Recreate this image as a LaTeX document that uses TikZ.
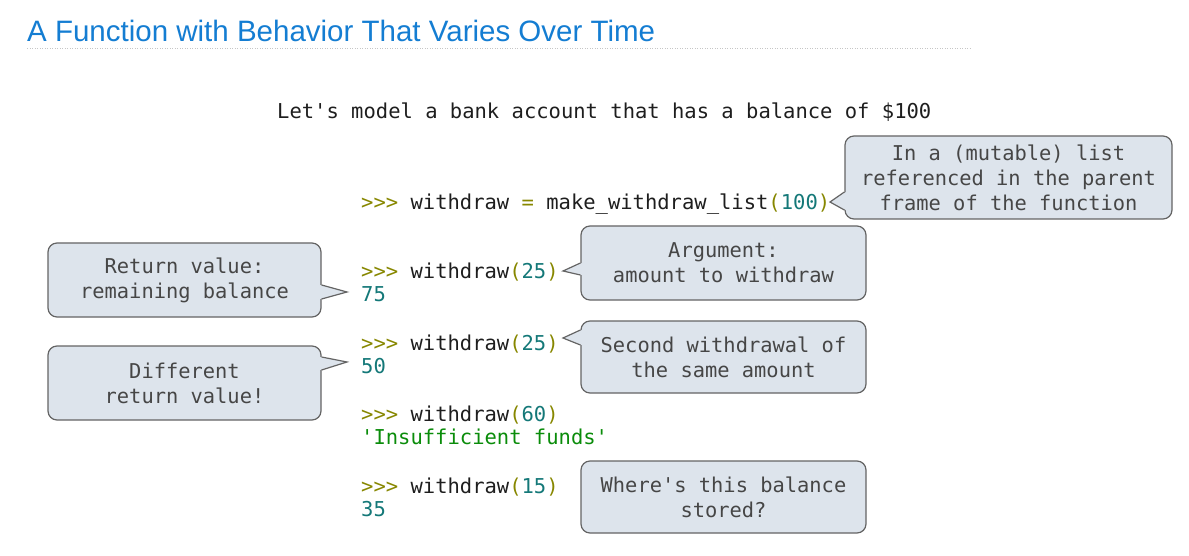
\documentclass[tikz,border=0pt]{standalone}
\usepackage{fontspec}
\setmainfont{Liberation Sans}
\setmonofont{DejaVu Sans Mono}

\definecolor{titleblue}{RGB}{20,125,210}
\definecolor{pyprompt}{RGB}{135,135,0}
\definecolor{pynum}{RGB}{20,120,120}
\definecolor{pystr}{RGB}{10,140,10}
\definecolor{codeblack}{RGB}{30,30,30}
\definecolor{notefill}{RGB}{221,228,236}
\definecolor{notedraw}{RGB}{100,100,100}
\definecolor{notetext}{RGB}{70,70,70}

\newcommand{\pr}{\textcolor{pyprompt}{>>>}}
\newcommand{\op}[1]{\textcolor{pyprompt}{#1}}
\newcommand{\num}[1]{\textcolor{pynum}{#1}}

\begin{document}
\begin{tikzpicture}[
x=1pt, y=-1pt,
heading/.style={anchor=base west, inner sep=0pt, text=titleblue, font=\fontsize{29.5}{32}\selectfont},
code/.style={anchor=base west, inner sep=0pt, text=codeblack, font=\ttfamily\fontsize{20.5}{24}\selectfont},
note/.style={rectangle, rounded corners=9pt, draw=notedraw, fill=notefill, line width=1.2pt, inner sep=0pt, align=center, text=notetext, font=\ttfamily\fontsize{20.4}{25}\selectfont},
pointer/.style={draw=notedraw, line width=1.2pt, line join=miter},
]
\useasboundingbox (0,0) rectangle (1189,556);

% title
\node[heading] (title) at (27,42) {A Function with Behavior That Varies Over Time};
\draw[gray!45, line width=1pt, dash pattern=on 1.2pt off 1.3pt] (27,48.5) -- (970,48.5);

% code
\node[code] (intro) at (277,119) {Let's model a bank account that has a balance of \$100};
\node[code] (make) at (361,210) {\pr{} withdraw \op{=} make\_withdraw\_list\op{(}\num{100}\op{)}};
\node[code] (call1) at (361,278) {\pr{} withdraw\op{(}\num{25}\op{)}};
\node[code] (out1) at (361,301) {\num{75}};
\node[code] (call2) at (361,350) {\pr{} withdraw\op{(}\num{25}\op{)}};
\node[code] (out2) at (361,373) {\num{50}};
\node[code] (call3) at (361,421) {\pr{} withdraw\op{(}\num{60}\op{)}};
\node[code] (out3) at (361,444) {\textcolor{pystr}{'Insufficient funds'}};
\node[code] (call4) at (361,493) {\pr{} withdraw\op{(}\num{15}\op{)}};
\node[code] (out4) at (361,516) {\num{35}};

% callouts
\node[note, minimum width=327pt, minimum height=83pt] (parent) at (1008.5,177.5) {In a (mutable) list\\referenced in the parent\\frame of the function};
\node[note, minimum width=285pt, minimum height=74pt] (arg) at (723.5,263) {Argument:\\amount to withdraw};
\node[note, minimum width=273pt, minimum height=74pt] (ret) at (184.5,280) {Return value:\\remaining balance};
\node[note, minimum width=273pt, minimum height=74pt] (diff) at (184.5,383) {Different\\return value!};
\node[note, minimum width=285pt, minimum height=72pt] (second) at (723.5,357) {Second withdrawal of\\the same amount};
\node[note, minimum width=285pt, minimum height=72pt] (where) at (723.5,497) {Where's this balance\\stored?};

% pointers
\coordinate (parenttip) at (830,202);
\coordinate (argtip) at (563,271);
\coordinate (rettip) at (347,292);
\coordinate (difftip) at (347,362);
\coordinate (secondtip) at (563,338);

\fill[notefill] ([xshift=1.5pt,yshift=-14.5pt]parent.west) -- (parenttip) -- ([xshift=1.5pt,yshift=-32.5pt]parent.west) -- cycle;
\draw[pointer] ([yshift=-14.5pt]parent.west) -- (parenttip) -- ([yshift=-32.5pt]parent.west);
\fill[notefill] ([xshift=1.5pt]arg.west) -- (argtip) -- ([xshift=1.5pt,yshift=-12pt]arg.west) -- cycle;
\draw[pointer] (arg.west) -- (argtip) -- ([yshift=-12pt]arg.west);
\fill[notefill] ([xshift=-1.5pt,yshift=-5pt]ret.east) -- (rettip) -- ([xshift=-1.5pt,yshift=-19pt]ret.east) -- cycle;
\draw[pointer] ([yshift=-5pt]ret.east) -- (rettip) -- ([yshift=-19pt]ret.east);
\fill[notefill] ([xshift=-1.5pt,yshift=26pt]diff.east) -- (difftip) -- ([xshift=-1.5pt,yshift=13pt]diff.east) -- cycle;
\draw[pointer] ([yshift=26pt]diff.east) -- (difftip) -- ([yshift=13pt]diff.east);
\fill[notefill] ([xshift=1.5pt,yshift=27pt]second.west) -- (secondtip) -- ([xshift=1.5pt,yshift=12pt]second.west) -- cycle;
\draw[pointer] ([yshift=27pt]second.west) -- (secondtip) -- ([yshift=12pt]second.west);
\end{tikzpicture}
\end{document}
